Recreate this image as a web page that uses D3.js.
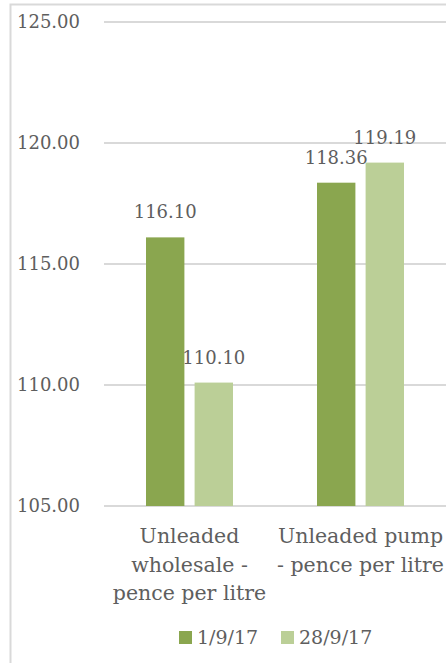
<!DOCTYPE html>
<html>
<head>
<meta charset="utf-8">
<script src="https://cdn.jsdelivr.net/npm/d3@7"></script>
<style>
  body { margin: 0; background: #fff; }
  text { font-family: "DejaVu Serif", serif; fill: #5e5e5e; }
</style>
</head>
<body>
<section id="grafico"></section>
<script>
const categories = [["Unleaded", "wholesale -", "pence per litre"], ["Unleaded pump", "- pence per litre"]];
const series = ["1/9/17", "28/9/17"];
const values1 = [116.10, 118.36];
const values2 = [110.10, 119.19];
const yTicks = [105, 110, 115, 120, 125];
const colors = ["#8aa64f", "#bbcf97"];

const width = 446;
const height = 663;

const svg = d3.select("section#grafico")
    .append("svg")
    .attr("width", width)
    .attr("height", height);

// chart frame (cut off right and bottom)
svg.append("path")
    .attr("d", `M10.5,${height} V4.5 H${width}`)
    .attr("fill", "none")
    .attr("stroke", "#d9d9d9")
    .attr("stroke-width", 2);

const yScale = d3.scaleLinear()
    .domain([105, 125])
    .range([506, 22]);

const catIdx = categories.map((d, i) => i);
const xScale = d3.scaleBand()
    .domain(catIdx)
    .range([104, 446]);

const xInner = d3.scaleBand()
    .domain(series)
    .range([42, 129])
    .paddingInner(0.21);

// grid
svg.append("g")
    .selectAll("line")
    .data(yTicks)
    .enter()
    .append("line")
    .attr("x1", 104)
    .attr("x2", width)
    .attr("y1", d => yScale(d))
    .attr("y2", d => yScale(d))
    .attr("stroke", "#d9d9d9")
    .attr("stroke-width", 2);

svg.append("g")
    .selectAll("text")
    .data(yTicks)
    .enter()
    .append("text")
    .attr("x", 80)
    .attr("y", d => yScale(d))
    .attr("dy", "0.36em")
    .attr("text-anchor", "end")
    .style("font-size", "18px")
    .text(d => d.toFixed(2));

const bars = [];
catIdx.forEach(i => {
    bars.push({ c: i, s: series[0], v: values1[i], col: colors[0] });
    bars.push({ c: i, s: series[1], v: values2[i], col: colors[1] });
});

svg.append("g")
    .selectAll("rect")
    .data(bars)
    .enter()
    .append("rect")
    .attr("x", d => xScale(d.c) + xInner(d.s))
    .attr("y", d => yScale(d.v))
    .attr("width", xInner.bandwidth())
    .attr("height", d => yScale(105) - yScale(d.v))
    .attr("fill", d => d.col);

svg.append("g")
    .selectAll("text")
    .data(bars)
    .enter()
    .append("text")
    .attr("x", d => xScale(d.c) + xInner(d.s) + xInner.bandwidth() / 2)
    .attr("y", d => yScale(d.v) - 19)
    .attr("text-anchor", "middle")
    .style("font-size", "18px")
    .text(d => d.v.toFixed(2));

// category labels
const catG = svg.append("g")
    .selectAll("text")
    .data(categories)
    .enter()
    .append("text")
    .attr("text-anchor", "middle")
    .style("font-size", "20.5px");

catG.selectAll("tspan")
    .data((d, i) => d.map(t => ({ t, i })))
    .enter()
    .append("tspan")
    .attr("x", d => xScale(d.i) + xScale.bandwidth() / 2)
    .attr("y", (d, j) => 543 + j * 28.5)
    .text(d => d.t);

// legend
const legX = [179, 281];
const leg = svg.append("g")
    .selectAll("g")
    .data(series)
    .enter()
    .append("g")
    .attr("transform", (d, i) => `translate(${legX[i]},631)`);

leg.append("rect")
    .attr("width", 13)
    .attr("height", 13)
    .attr("fill", (d, i) => colors[i]);

leg.append("text")
    .attr("x", 18)
    .attr("y", 13)
    .style("font-size", "19px")
    .text(d => d);
</script>
</body>
</html>
